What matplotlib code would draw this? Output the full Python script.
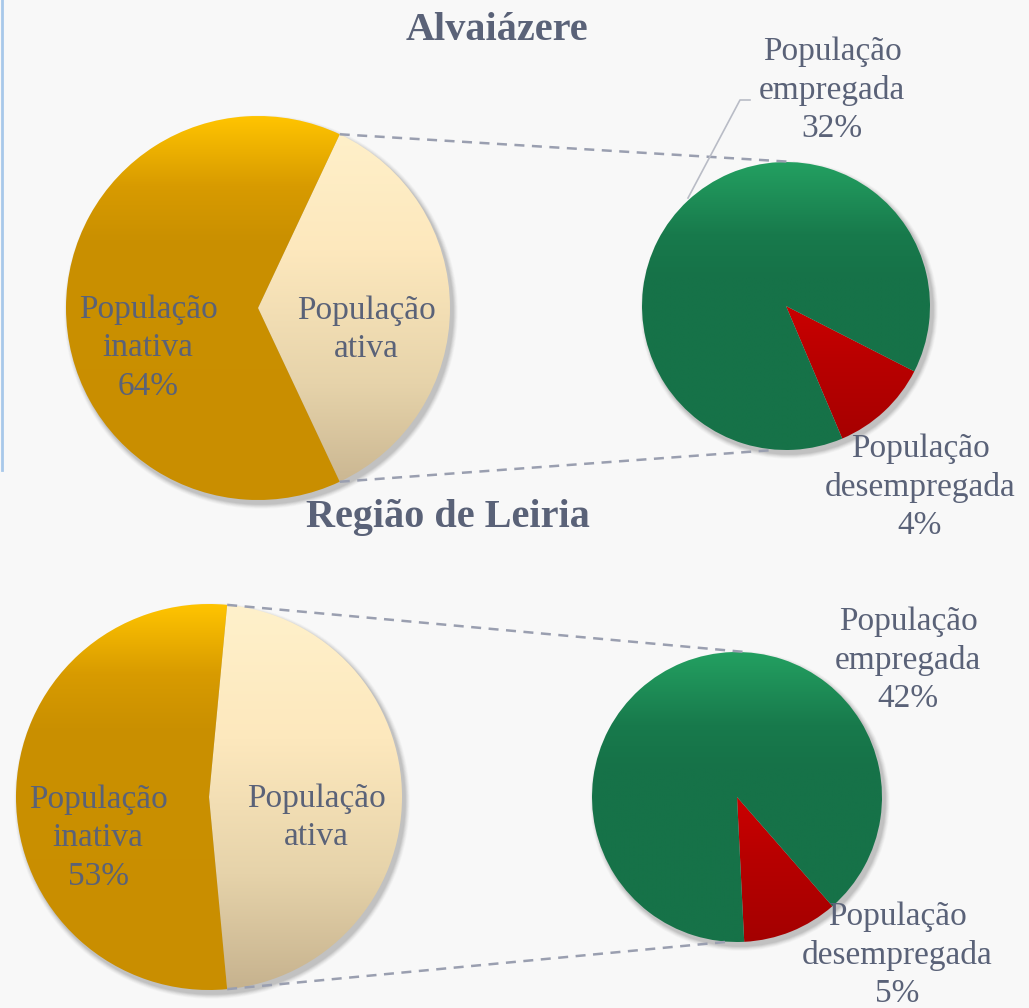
import numpy as np
import matplotlib
matplotlib.use("Agg")
import matplotlib.pyplot as plt
from matplotlib.colors import LinearSegmentedColormap
from matplotlib.patches import Circle

# ---------------- data ----------------
titles = ["Alvaiázere", "Região de Leiria"]
main_labels = ["População\ninativa", "População\nativa"]
inativa = [64, 53]
ativa = [36, 47]
sub_labels = ["População\nempregada", "População\ndesempregada"]
empregada = [32, 42]
desempregada = [4, 5]

# ---------------- style ----------------
W, H = 1029, 1008
TXT = "#5a6278"
FONT = ["Liberation Serif", "DejaVu Serif"]
grad_inativa = [(0, "#ffc400"), (0.18, "#d89b00"), (0.32, "#ca9000"), (1, "#c98e00")]
grad_ativa = [(0, "#fff1cb"), (0.35, "#fde8bd"), (0.7, "#e6d3aa"), (1, "#c6b28e")]
grad_emp = [(0, "#23a061"), (0.25, "#187a4c"), (0.4, "#167248"), (1, "#167248")]
grad_des = [(0, "#f00000"), (0.35, "#d80000"), (0.7, "#b80000"), (1, "#a40000")]

fig = plt.figure(figsize=(W / 100, H / 100), dpi=100)
fig.patch.set_facecolor("#f8f8f8")
ax = fig.add_axes([0, 0, 1, 1])
ax.set_facecolor("#f8f8f8")
ax.axis("off")


def Y(y):
    return H - y


def gradient_fill(wedge, cx, cy, r, stops):
    cmap = LinearSegmentedColormap.from_list("g", stops)
    g = np.linspace(0, 1, 256).reshape(-1, 1)
    im = ax.imshow(g, cmap=cmap, extent=(cx - r, cx + r, cy - r, cy + r),
                   origin="upper", aspect="auto", zorder=wedge.get_zorder(),
                   interpolation="bilinear")
    im.set_clip_path(wedge)
    wedge.set_facecolor("none")


def shadow(cx, cy, r):
    for k, a in zip(range(6, 0, -1), [0.03, 0.04, 0.05, 0.06, 0.07, 0.08]):
        ax.add_patch(Circle((cx + 3, cy - 4), r + k * 0.8, color="#404040",
                            alpha=a, lw=0, zorder=1))


layout = [
    dict(c1=(258, 308), r1=192, c2=(786, 306), r2=144, sub_mid=-47,
         t=(497, 30), lab_in=(148, 348), lab_at=(366, 330),
         lab_emp=(832, 90), lab_des=(920, 487)),
    dict(c1=(209, 797), r1=193, c2=(737, 797), r2=145, sub_mid=-68,
         t=(448, 518), lab_in=(98, 838), lab_at=(316, 818),
         lab_emp=(908, 660), lab_des=(897, 955)),
]

for i, L in enumerate(layout):
    cx1, cy1 = L["c1"][0], Y(L["c1"][1])
    r1 = L["r1"]
    cx2, cy2 = L["c2"][0], Y(L["c2"][1])
    r2 = L["r2"]

    # main pie: ativa centred on the right (0 deg)
    tot = ativa[i] + inativa[i]
    ativa_deg = ativa[i] / tot * 360
    shadow(cx1, cy1, r1)
    wedges, _ = ax.pie([ativa[i], inativa[i]], startangle=-ativa_deg / 2,
                       center=(cx1, cy1), radius=r1, counterclock=True,
                       wedgeprops=dict(lw=0, zorder=2), frame=True)
    gradient_fill(wedges[0], cx1, cy1, r1, grad_ativa)
    gradient_fill(wedges[1], cx1, cy1, r1, grad_inativa)

    # sub pie
    stot = empregada[i] + desempregada[i]
    des_deg = desempregada[i] / stot * 360
    shadow(cx2, cy2, r2)
    w2, _ = ax.pie([desempregada[i], empregada[i]],
                   startangle=L["sub_mid"] - des_deg / 2,
                   center=(cx2, cy2), radius=r2, counterclock=True,
                   wedgeprops=dict(lw=0, zorder=2), frame=True)
    gradient_fill(w2[0], cx2, cy2, r2, grad_des)
    gradient_fill(w2[1], cx2, cy2, r2, grad_emp)

    # connector lines
    half = np.deg2rad(ativa_deg / 2)
    p_top = (cx1 + r1 * np.cos(half), cy1 + r1 * np.sin(half))
    p_bot = (cx1 + r1 * np.cos(half), cy1 - r1 * np.sin(half))
    ax.plot([p_top[0], cx2 + 8], [p_top[1], cy2 + r2], ls=(0, (4, 3)),
            color="#9a9fb0", lw=1.8, zorder=3)
    ax.plot([p_bot[0], cx2 - 12], [p_bot[1], cy2 - r2], ls=(0, (4, 3)),
            color="#9a9fb0", lw=1.8, zorder=3)

    # texts
    ax.text(L["t"][0], Y(L["t"][1]), titles[i], ha="center", va="center",
            fontsize=29, fontweight="bold", color=TXT, family=FONT, zorder=5)
    kw = dict(ha="center", va="center", fontsize=24, color=TXT, family=FONT,
              linespacing=1.33, zorder=5)
    ax.text(L["lab_in"][0], Y(L["lab_in"][1]),
            f"{main_labels[0]}\n{inativa[i]}%", **kw)
    ax.text(L["lab_at"][0], Y(L["lab_at"][1]), main_labels[1], **kw)
    ax.text(L["lab_emp"][0], Y(L["lab_emp"][1]),
            f"{sub_labels[0]}\n{empregada[i]}%", **kw)
    ax.text(L["lab_des"][0], Y(L["lab_des"][1]),
            f"{sub_labels[1]}\n{desempregada[i]}%", **kw)

# leader line for the first "empregada" label
ax.plot([750, 740, 688], [Y(100), Y(100), Y(198)], color="#b9bcc6", lw=1.2,
        zorder=3)

# left border line (slide frame)
ax.plot([1.5, 1.5], [Y(0), Y(470)], color="#a8c8ea", lw=2, zorder=6)

ax.set_xlim(0, W)
ax.set_ylim(0, H)
ax.set_aspect("equal")
ax.axis("off")

fig.savefig("out.png", dpi=100, facecolor=fig.get_facecolor())
